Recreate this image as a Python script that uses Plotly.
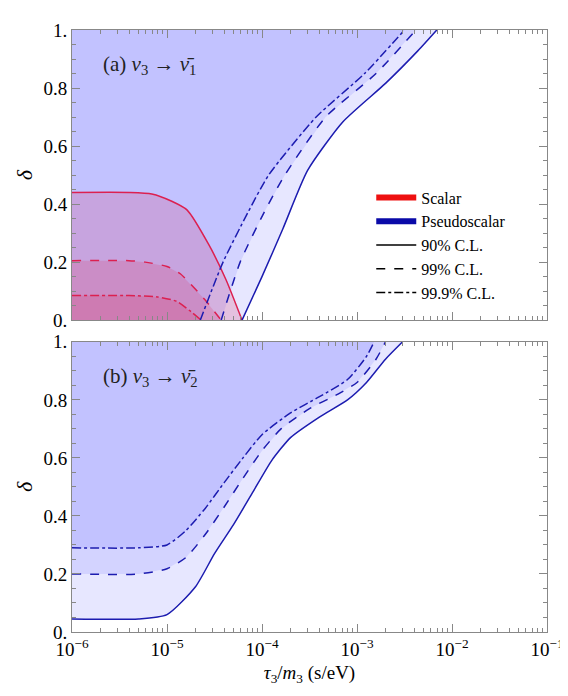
import plotly.graph_objects as go
from plotly.subplots import make_subplots

# panel (a): nu3 -> nubar1, log10(tau/m) vs delta
a_ps90_x = [-4.21, -4.0, -3.78, -3.52, -3.15, -2.70, -2.36, -2.16]
a_ps90_y = [0.0, 0.15, 0.315, 0.516, 0.683, 0.816, 0.928, 1.0]
a_ps99_x = [-4.43, -4.23, -3.98, -3.76, -3.33, -2.80, -2.38]
a_ps99_y = [0.0, 0.2, 0.37, 0.5, 0.7, 0.85, 1.0]
a_ps999_x = [-4.65, -4.41, -4.15, -3.93, -3.43, -2.92, -2.50]
a_ps999_y = [0.0, 0.2, 0.37, 0.5, 0.7, 0.85, 1.0]
a_s90_x = [-6.0, -5.4, -5.16, -4.95, -4.79, -4.56, -4.38, -4.21]
a_s90_y = [0.44, 0.44, 0.435, 0.41, 0.38, 0.26, 0.14, 0.0]
a_s99_x = [-6.0, -5.4, -5.23, -5.0, -4.86, -4.6, -4.43]
a_s99_y = [0.205, 0.205, 0.2, 0.185, 0.16, 0.07, 0.0]
a_s999_x = [-6.0, -5.4, -5.1, -4.9, -4.75, -4.64]
a_s999_y = [0.085, 0.085, 0.08, 0.065, 0.03, 0.0]

# panel (b): nu3 -> nubar2
b_ps90_x = [-6.0, -5.3, -5.0, -4.7, -4.5, -4.3, -4.1, -3.9, -3.7, -3.4, -3.1, -2.9, -2.7, -2.52]
b_ps90_y = [0.045, 0.045, 0.06, 0.156, 0.27, 0.37, 0.48, 0.59, 0.67, 0.74, 0.80, 0.86, 0.94, 1.0]
b_ps99_x = [-6.0, -5.3, -5.0, -4.8, -4.6, -4.4, -4.2, -4.0, -3.8, -3.5, -3.2, -3.0, -2.8, -2.7]
b_ps99_y = [0.2, 0.2, 0.218, 0.257, 0.335, 0.43, 0.53, 0.625, 0.70, 0.77, 0.82, 0.86, 0.94, 1.0]
b_ps999_x = [-6.0, -5.3, -5.0, -4.8, -4.6, -4.4, -4.2, -4.0, -3.7, -3.4, -3.1, -2.9, -2.82]
b_ps999_y = [0.29, 0.29, 0.30, 0.35, 0.425, 0.514, 0.60, 0.68, 0.755, 0.81, 0.87, 0.95, 1.0]

x_ticks = [-6, -5, -4, -3, -2, -1]
y_ticks = [0, 0.2, 0.4, 0.6, 0.8, 1.0]
y_labels = ["0.", "0.2", "0.4", "0.6", "0.8", "1."]

BLUE = "#1c1cb0"
RED = "#dc2050"
BFILL = "rgba(110,110,255,0.17)"
RFILL = "rgba(220,60,110,0.22)"
FONT = "Liberation Serif, DejaVu Serif, Times New Roman, serif"


def p(v):
    return 10 ** v


minor_vals = [m * p(d) for d in x_ticks[:-1] for m in range(2, 10)]

fig = make_subplots(rows=2, cols=1, vertical_spacing=0.036, shared_xaxes=False)

dashes = {"90": "solid", "99": "dash", "999": "dashdot"}

# panel (a) pseudoscalar fills: left of curve
for key, xs, ys in [("90", a_ps90_x, a_ps90_y), ("99", a_ps99_x, a_ps99_y), ("999", a_ps999_x, a_ps999_y)]:
    px = [p(v) for v in xs] + [p(-6), p(-6)]
    py = list(ys) + [1.0, 0.0]
    fig.add_trace(go.Scatter(x=px, y=py, fill="toself", fillcolor=BFILL, mode="none",
                             showlegend=False, hoverinfo="skip"), row=1, col=1)
for key, xs, ys in [("90", a_s90_x, a_s90_y), ("99", a_s99_x, a_s99_y), ("999", a_s999_x, a_s999_y)]:
    px = [p(v) for v in xs] + [p(-6)]
    py = list(ys) + [0.0]
    fig.add_trace(go.Scatter(x=px, y=py, fill="toself", fillcolor=RFILL, mode="none",
                             showlegend=False, hoverinfo="skip"), row=1, col=1)
for key, xs, ys in [("90", a_s90_x, a_s90_y), ("99", a_s99_x, a_s99_y), ("999", a_s999_x, a_s999_y)]:
    fig.add_trace(go.Scatter(x=[p(v) for v in xs], y=ys, mode="lines",
                             line=dict(color=RED, width=1.5, dash=dashes[key], shape="spline", smoothing=0.6),
                             showlegend=False), row=1, col=1)
for key, xs, ys in [("90", a_ps90_x, a_ps90_y), ("99", a_ps99_x, a_ps99_y), ("999", a_ps999_x, a_ps999_y)]:
    fig.add_trace(go.Scatter(x=[p(v) for v in xs], y=ys, mode="lines",
                             line=dict(color=BLUE, width=1.5, dash=dashes[key], shape="spline", smoothing=0.6),
                             showlegend=False), row=1, col=1)

# panel (b)
for key, xs, ys in [("90", b_ps90_x, b_ps90_y), ("99", b_ps99_x, b_ps99_y), ("999", b_ps999_x, b_ps999_y)]:
    px = [p(v) for v in xs] + [p(-6)]
    py = list(ys) + [1.0]
    fig.add_trace(go.Scatter(x=px, y=py, fill="toself", fillcolor=BFILL, mode="none",
                             showlegend=False, hoverinfo="skip"), row=2, col=1)
for key, xs, ys in [("90", b_ps90_x, b_ps90_y), ("99", b_ps99_x, b_ps99_y), ("999", b_ps999_x, b_ps999_y)]:
    fig.add_trace(go.Scatter(x=[p(v) for v in xs], y=ys, mode="lines",
                             line=dict(color=BLUE, width=1.5, dash=dashes[key], shape="spline", smoothing=0.6),
                             showlegend=False), row=2, col=1)

# legend entries
legend_items = [("Scalar", "#ee1010", 6, "solid"), ("Pseudoscalar", "#0a0aa8", 6, "solid"),
                ("90% C.L.", "black", 1.5, "solid"), ("99% C.L.", "black", 1.5, "dash"),
                ("99.9% C.L.", "black", 1.5, "dashdot")]
for name, col, w, d in legend_items:
    fig.add_trace(go.Scatter(x=[None], y=[None], mode="lines", name=name,
                             line=dict(color=col, width=w, dash=d)), row=1, col=1)

ax_common = dict(type="log", range=[-6, -1], tickvals=[p(v) for v in x_ticks],
                 ticks="inside", ticklen=8, mirror="allticks", showline=True, linecolor="#888",
                 linewidth=1, tickcolor="#888", showgrid=False, zeroline=False,
                 minor=dict(ticks="inside", ticklen=4, tickcolor="#888", showgrid=False,
                            tickvals=minor_vals),
                 tickfont=dict(family=FONT, size=19, color="black"))
tick_text = [f"10<sup>−{-v}</sup>" for v in x_ticks]
fig.update_xaxes(**ax_common, ticktext=[""] * len(x_ticks), row=1, col=1)
fig.update_xaxes(**ax_common, ticktext=tick_text, row=2, col=1,
                 title=dict(text="<i>τ</i><sub>3</sub>/<i>m</i><sub>3</sub> (s/eV)",
                            font=dict(family=FONT, size=19, color="black"), standoff=6))
fig.update_yaxes(range=[0, 1], tickvals=y_ticks, ticktext=y_labels, ticks="inside", ticklen=8,
                 mirror="allticks", showline=True, linecolor="#888", tickcolor="#888",
                 showgrid=False, zeroline=False,
                 minor=dict(ticks="inside", ticklen=4, tickcolor="#888", dtick=0.05),
                 tickfont=dict(family=FONT, size=19, color="black"),
                 title=dict(text="<i>δ</i>", font=dict(family=FONT, size=22, color="black"), standoff=4))

fig.add_annotation(text="(a) <i>ν</i><sub>3</sub> → <i>ν̄</i><sub>1</sub>", xref="x domain", yref="y domain",
                   x=0.06, y=0.93, xanchor="left", yanchor="top", showarrow=False,
                   font=dict(family=FONT, size=21, color="#222"))
fig.add_annotation(text="(b) <i>ν</i><sub>3</sub> → <i>ν̄</i><sub>2</sub>", xref="x2 domain", yref="y2 domain",
                   x=0.06, y=0.93, xanchor="left", yanchor="top", showarrow=False,
                   font=dict(family=FONT, size=21, color="#222"))

fig.update_layout(
    width=568, height=696, margin=dict(l=64, r=18, t=12, b=72),
    plot_bgcolor="white", paper_bgcolor="white",
    font=dict(family=FONT, size=16, color="black"),
    legend=dict(x=0.63, y=0.75, xanchor="left", yanchor="top", bgcolor="rgba(0,0,0,0)",
                font=dict(family=FONT, size=16), tracegroupgap=0, itemwidth=40),
)

fig.write_html("out.html")
